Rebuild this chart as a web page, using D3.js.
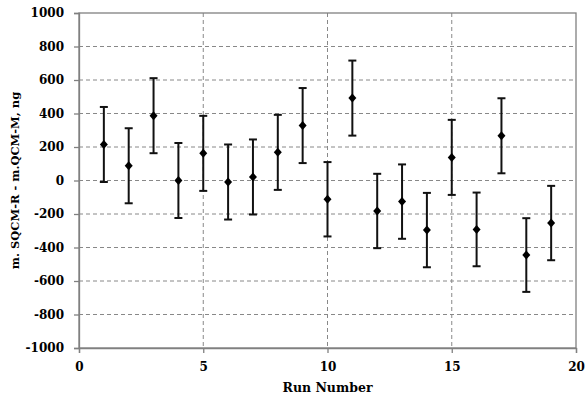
<!DOCTYPE html>
<html>
<head>
<meta charset="utf-8">
<script src="https://cdn.jsdelivr.net/npm/d3@7"></script>
<style>
  body { margin: 0; background: #fff; }
  text { font-family: "DejaVu Serif", serif; font-weight: bold; }
</style>
</head>
<body>
<svg id="chart" width="585" height="397"></svg>
<script>
// data
var runs = [1, 2, 3, 4, 5, 6, 7, 8, 9, 10, 11, 12, 13, 14, 15, 16, 17, 18, 19];
var diffs = [215, 88, 387, 0, 162, -9, 21, 168, 328, -112, 492, -182, -126, -296, 138, -292, 267, -445, -254];
var errs = [224, 224, 224, 224, 224, 224, 224, 224, 224, 222, 224, 222, 222, 222, 224, 220, 224, 220, 222];
var xTicks = [0, 5, 10, 15, 20];
var yTicks = [-1000, -800, -600, -400, -200, 0, 200, 400, 600, 800, 1000];

var svg = d3.select("#chart");
var mLeft = 79, mRight = 576, mTop = 13, mBottom = 348;

var x = d3.scaleLinear().domain([0, 20]).range([mLeft, mRight]);
var y = d3.scaleLinear().domain([-1000, 1000]).range([mBottom, mTop]);

// Grid
svg.append("g").selectAll("line")
   .data(yTicks.filter(function(d) { return d > -1000 && d < 1000; }))
   .enter().append("line")
   .attr("x1", mLeft).attr("x2", mRight)
   .attr("y1", function(d) { return y(d); })
   .attr("y2", function(d) { return y(d); })
   .attr("stroke", "#888").attr("stroke-width", 1)
   .attr("stroke-dasharray", "4,3");
svg.append("g").selectAll("line")
   .data(xTicks.filter(function(d) { return d > 0 && d < 20; }))
   .enter().append("line")
   .attr("x1", function(d) { return x(d); })
   .attr("x2", function(d) { return x(d); })
   .attr("y1", mTop).attr("y2", mBottom)
   .attr("stroke", "#888").attr("stroke-width", 1)
   .attr("stroke-dasharray", "4,3");

// Plot border
svg.append("rect")
   .attr("x", mLeft).attr("y", mTop)
   .attr("width", mRight - mLeft).attr("height", mBottom - mTop)
   .attr("fill", "none").attr("stroke", "#808080").attr("stroke-width", 1.3);

// Axes
var yAxis = d3.axisLeft(y).tickValues(yTicks).tickSize(5).tickPadding(10)
              .tickFormat(function(d) { return String(d); });
var gy = svg.append("g").attr("transform", "translate(" + mLeft + ",0)").call(yAxis);
var xAxis = d3.axisBottom(x).tickValues(xTicks).tickSize(5).tickPadding(9)
              .tickFormat(function(d) { return String(d); });
var gx = svg.append("g").attr("transform", "translate(0," + mBottom + ")").call(xAxis);
[gy, gx].forEach(function(g) {
  g.select(".domain").attr("stroke", "#808080").attr("stroke-width", 1.3);
  g.selectAll(".tick line").attr("stroke", "#808080").attr("stroke-width", 1.3);
  g.selectAll(".tick text").attr("fill", "#000")
   .style("font-family", "'DejaVu Serif', serif").style("font-weight", "bold").style("font-size", "12px");
});

// Error bars
var bars = svg.append("g").selectAll("g")
   .data(runs).enter().append("g");
bars.append("line")
   .attr("x1", function(d) { return x(d); })
   .attr("x2", function(d) { return x(d); })
   .attr("y1", function(d, i) { return y(diffs[i] + errs[i]); })
   .attr("y2", function(d, i) { return y(diffs[i] - errs[i]); })
   .attr("stroke", "#111").attr("stroke-width", 2);
[1, -1].forEach(function(s) {
  bars.append("line")
     .attr("x1", function(d) { return x(d) - 4; })
     .attr("x2", function(d) { return x(d) + 4; })
     .attr("y1", function(d, i) { return y(diffs[i] + s * errs[i]); })
     .attr("y2", function(d, i) { return y(diffs[i] + s * errs[i]); })
     .attr("stroke", "#111").attr("stroke-width", 2);
});

// Markers
svg.append("g").selectAll("path")
   .data(runs).enter().append("path")
   .attr("transform", function(d, i) { return "translate(" + x(d) + "," + y(diffs[i]) + ")"; })
   .attr("d", "M0,-4.5 L4,0 L0,4.5 L-4,0 Z")
   .attr("fill", "#000");

// Axis titles
svg.append("text")
   .attr("x", (mLeft + mRight) / 2).attr("y", 392)
   .attr("text-anchor", "middle")
   .style("font-size", "12.5px")
   .text("Run Number");
svg.append("text")
   .attr("transform", "translate(19," + ((mTop + mBottom) / 2) + ") rotate(-90)")
   .attr("text-anchor", "middle")
   .style("font-size", "11.5px")
   .text("m. SQCM-R - m.QCM-M, ng");
</script>
</body>
</html>
